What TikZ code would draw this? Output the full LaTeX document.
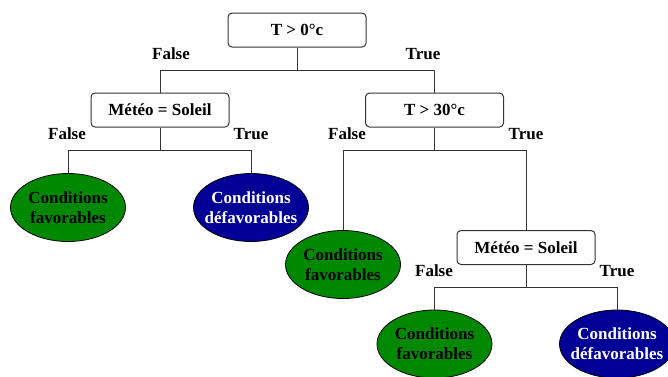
\documentclass[tikz,border=0pt]{standalone}
\usepackage{fontspec}
\setmainfont{Liberation Serif}
\usetikzlibrary{shapes.geometric}
\definecolor{leafgreen}{RGB}{0,136,0}
\definecolor{leafblue}{RGB}{0,0,150}
\definecolor{linegray}{RGB}{51,51,51}
\tikzset{
  decbox/.style={draw=linegray, line width=1pt, rounded corners=4pt, fill=white,
    minimum width=138pt, minimum height=34pt, inner sep=0pt,
    font=\fontsize{17}{20}\selectfont\bfseries},
  leafshape/.style={ellipse, draw=black, line width=0.8pt,
    minimum width=115pt, minimum height=68pt, inner sep=0pt},
  goodleaf/.style={leafshape, fill=leafgreen,
    label={[align=center, text=black, inner sep=0pt, font=\fontsize{17}{20}\selectfont\bfseries]center:Conditions\\favorables}},
  badleaf/.style={leafshape, fill=leafblue,
    label={[align=center, text=white, inner sep=0pt, font=\fontsize{17}{20}\selectfont\bfseries]center:Conditions\\défavorables}},
  lbl/.style={font=\fontsize{17}{20}\selectfont\bfseries, inner sep=0pt},
  conn/.style={draw=linegray, line width=1pt}
}
\begin{document}
\begin{tikzpicture}[x=1pt,y=-1pt]
\useasboundingbox (0,0) rectangle (668,376);
\node[decbox] (root) at (297,30) {T > 0°c};
\node[decbox] (m1) at (160,110) {Météo = Soleil};
\node[decbox] (t30) at (434.5,110) {T > 30°c};
\node[decbox] (m2) at (526,247.5) {Météo = Soleil};
\node[goodleaf] (g1) at (68,207.5) {};
\node[badleaf] (b1) at (251,207.5) {};
\node[goodleaf] (g2) at (343,264.5) {};
\node[goodleaf] (g3) at (434.5,344) {};
\node[badleaf] (b3) at (617,344) {};
\coordinate (j0) at (297,70);
\coordinate (j1) at (160,150);
\coordinate (j2) at (434.5,150);
\coordinate (j3) at (526,287);
\draw[conn] (root.south) -- (j0) -| (m1.north);
\draw[conn] (j0) -| (t30.north);
\draw[conn] (m1.south) -- (j1) -| (g1.north);
\draw[conn] (j1) -| (b1.north);
\draw[conn] (t30.south) -- (j2) -| (g2.north);
\draw[conn] (j2) -| (m2.north);
\draw[conn] (m2.south) -- (j3) -| (g3.north);
\draw[conn] (j3) -| (b3.north);
\node[lbl] (l1) at (171,54) {False};
\node[lbl] (l2) at (423,54) {True};
\node[lbl] (l3) at (67,134) {False};
\node[lbl] (l4) at (251,134) {True};
\node[lbl] (l5) at (347,134) {False};
\node[lbl] (l6) at (526,134) {True};
\node[lbl] (l7) at (434,271) {False};
\node[lbl] (l8) at (617,271) {True};
\end{tikzpicture}
\end{document}
